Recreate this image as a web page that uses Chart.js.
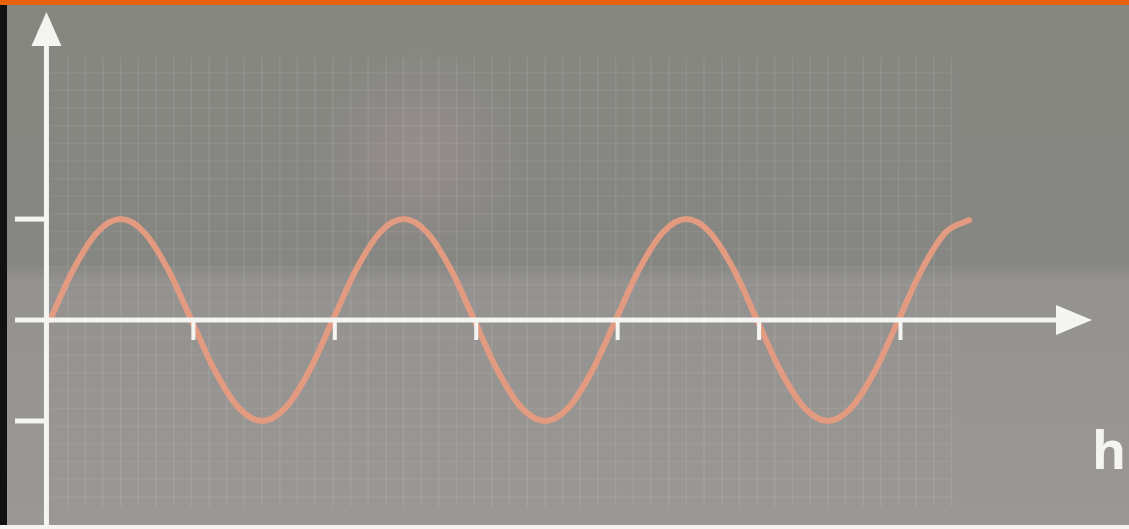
<!DOCTYPE html>
<html>
<head>
<meta charset="utf-8">
<script src="https://cdn.jsdelivr.net/npm/chart.js@4.4.1/dist/chart.umd.min.js"></script>
<style>
  html, body { margin: 0; padding: 0; background: #8a8a85; overflow: hidden; }
  #wrap { width: 1129px; height: 529px; position: relative; }
</style>
</head>
<body>
<div id="wrap"><canvas id="waveChart" width="1129" height="529"></canvas></div>
<script>
// phase in quarter periods, height (-1..1)
var phase = [0, 0.33, 0.67, 1, 1.33, 1.67, 2, 2.33, 2.67, 3, 3.33, 3.67,
             4, 4.33, 4.67, 5, 5.33, 5.67, 6, 6.33, 6.67, 7, 7.33, 7.67,
             8, 8.33, 8.67, 9, 9.33, 9.67, 10, 10.33, 10.67, 11, 11.33, 11.67,
             12, 12.33, 12.67, 13];
var height = [0, 0.5, 0.87, 1, 0.87, 0.5, 0, -0.5, -0.87, -1, -0.87, -0.5,
              0, 0.5, 0.87, 1, 0.87, 0.5, 0, -0.5, -0.87, -1, -0.87, -0.5,
              0, 0.5, 0.87, 1, 0.87, 0.5, 0, -0.5, -0.87, -1, -0.87, -0.5,
              0, 0.5, 0.87, 0.99];
var xTicks = [2, 4, 6, 8, 10, 12];
var yTicks = [1, -1];
var axisLabel = 'h';

var white = '#f4f4f2';

var backdrop = {
  id: 'backdrop',
  beforeDraw: function (chart) {
    var c = chart.ctx, w = chart.width, h = chart.height;
    var xs = chart.scales.x, ys = chart.scales.y;
    c.save();
    var g = c.createLinearGradient(0, 0, 0, h);
    g.addColorStop(0, '#85877f');
    g.addColorStop(0.5, '#868682');
    g.addColorStop(0.53, '#949290');
    g.addColorStop(1, '#9a9794');
    c.fillStyle = g;
    c.fillRect(0, 0, w, h);
    // soft pink blur
    var rg = c.createRadialGradient(420, 150, 5, 420, 150, 110);
    rg.addColorStop(0, 'rgba(175,150,160,0.4)');
    rg.addColorStop(1, 'rgba(175,150,160,0)');
    c.fillStyle = rg;
    c.fillRect(280, 20, 300, 280);
    // faint grid
    c.strokeStyle = 'rgba(255,255,255,0.09)';
    c.lineWidth = 1.5;
    var gx0 = xs.getPixelForValue(0), gx1 = xs.getPixelForValue(12.75);
    var gy0 = ys.getPixelForValue(2.6), gy1 = ys.getPixelForValue(-1.85);
    for (var v = 0.25; v <= 12.75; v += 0.25) {
      var px = xs.getPixelForValue(v);
      c.beginPath(); c.moveTo(px, gy0); c.lineTo(px, gy1); c.stroke();
    }
    c.strokeStyle = 'rgba(255,255,255,0.06)';
    for (var u = -1.75; u <= 2.6; u += 0.175) {
      var py = ys.getPixelForValue(u);
      c.beginPath(); c.moveTo(gx0, py); c.lineTo(gx1, py); c.stroke();
    }
    // frame strips
    c.fillStyle = '#111';
    c.fillRect(0, 0, 7, h);
    c.fillStyle = '#e8620c';
    c.fillRect(0, 0, w, 5);
    c.restore();
  },
  afterDatasetsDraw: function (chart) {
    var c = chart.ctx, w = chart.width, h = chart.height;
    var xs = chart.scales.x, ys = chart.scales.y;
    var ox = xs.getPixelForValue(-0.05), oy = ys.getPixelForValue(0);
    c.save();
    c.strokeStyle = white;
    c.fillStyle = white;
    c.lineWidth = 5;
    // y axis
    c.beginPath(); c.moveTo(ox, h); c.lineTo(ox, 40); c.stroke();
    c.beginPath(); c.moveTo(ox, 12); c.lineTo(ox - 15, 46); c.lineTo(ox + 15, 46); c.closePath(); c.fill();
    // x axis
    c.beginPath(); c.moveTo(15, oy); c.lineTo(1062, oy); c.stroke();
    c.beginPath(); c.moveTo(1092, oy); c.lineTo(1056, oy - 15); c.lineTo(1056, oy + 15); c.closePath(); c.fill();
    // y ticks
    yTicks.forEach(function (v) {
      var py = ys.getPixelForValue(v);
      c.beginPath(); c.moveTo(15, py); c.lineTo(ox, py); c.stroke();
    });
    // x ticks
    c.lineWidth = 4;
    xTicks.forEach(function (v) {
      var px = xs.getPixelForValue(v) + 2;
      c.beginPath(); c.moveTo(px, oy); c.lineTo(px, oy + 20); c.stroke();
    });
    // bottom line
    c.fillRect(0, h - 4, w, 4);
    // axis letter
    c.font = 'bold 52px "Open Sans", "DejaVu Sans", sans-serif';
    c.textBaseline = 'alphabetic';
    c.fillText(axisLabel, 1092, 469);
    c.restore();
  }
};

new Chart(document.getElementById('waveChart'), {
  type: 'line',
  data: {
    datasets: [{
      data: phase.map(function (p, i) { return { x: p, y: height[i] }; }),
      borderColor: '#e29a80',
      borderWidth: 6,
      pointRadius: 0,
      cubicInterpolationMode: 'monotone',
      borderCapStyle: 'round',
      fill: false
    }]
  },
  options: {
    responsive: false,
    animation: false,
    devicePixelRatio: 1,
    layout: { padding: 0 },
    plugins: { legend: { display: false }, tooltip: { enabled: false } },
    scales: {
      x: { type: 'linear', display: false, min: -0.707, max: 15.26 },
      y: { type: 'linear', display: false, min: -2.07, max: 3.17 }
    }
  },
  plugins: [backdrop]
});
</script>
</body>
</html>
